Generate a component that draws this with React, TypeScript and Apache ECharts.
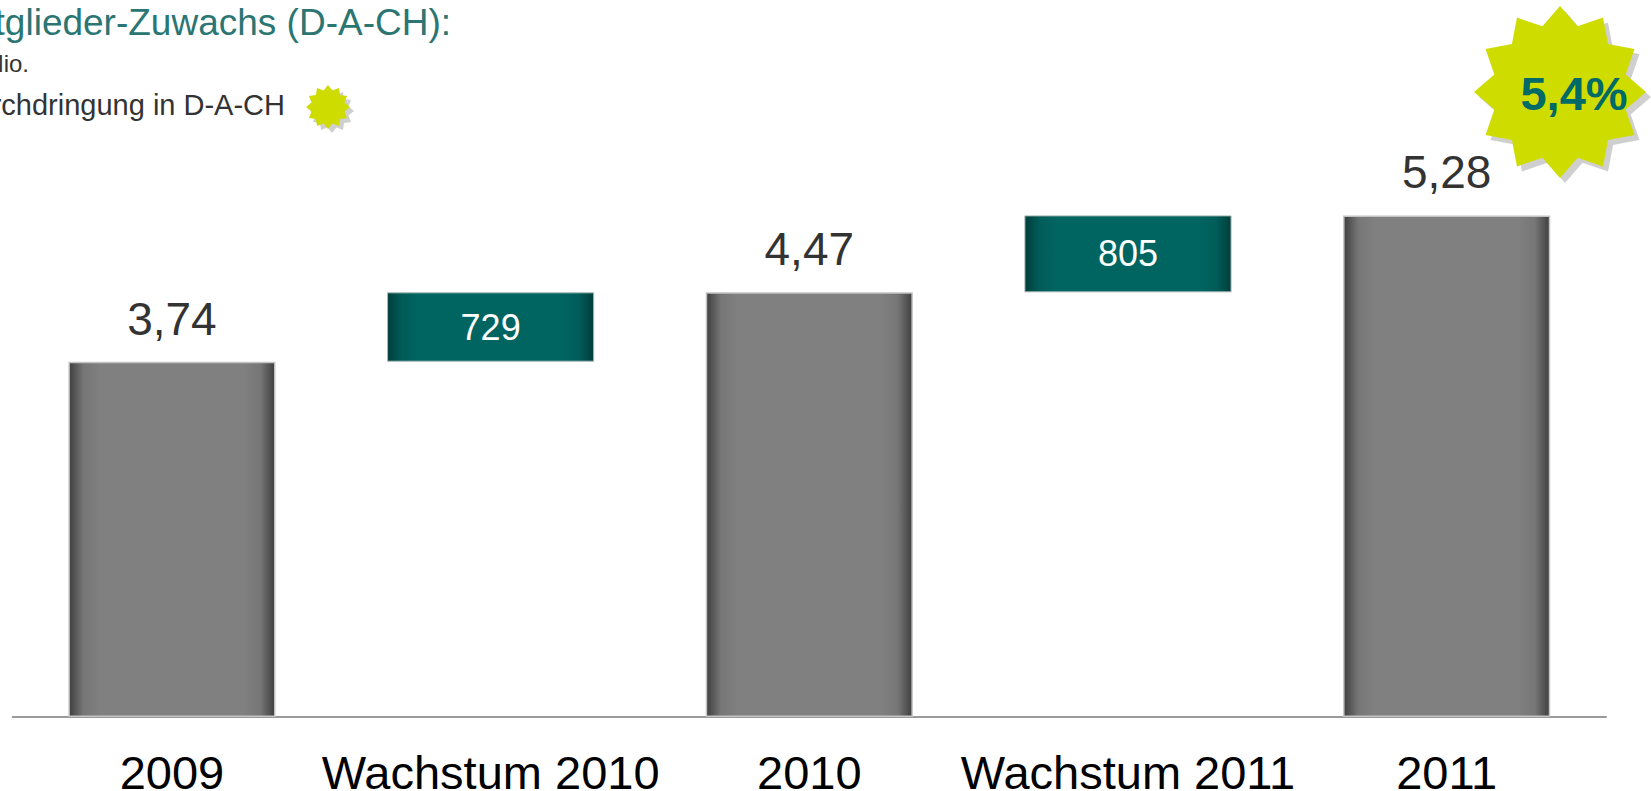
import React, { useEffect, useRef } from "react";
import * as echarts from "echarts";

const categories = ["2009", "Wachstum 2010", "2010", "Wachstum 2011", "2011"];
const totals = [3.74, 4.47, 5.28]; // Mio.
const growth = [729, 805]; // Tsd.
const penetration = "5,4%";

const FONT = "'Liberation Sans', Arial, sans-serif";

function starPoints(cx: number, cy: number, ro: number, ri: number, n: number) {
  const pts: number[][] = [];
  for (let i = 0; i < n * 2; i++) {
    const r = i % 2 === 0 ? ro : ri;
    const a = -Math.PI / 2 + (i * Math.PI) / n;
    pts.push([cx + r * Math.cos(a), cy + r * Math.sin(a)]);
  }
  return pts;
}

const grayFill = {
  type: "linear", x: 0, y: 0, x2: 1, y2: 0,
  colorStops: [
    { offset: 0, color: "#3f3f3f" },
    { offset: 0.07, color: "#767676" },
    { offset: 0.15, color: "#808080" },
    { offset: 0.85, color: "#808080" },
    { offset: 0.93, color: "#767676" },
    { offset: 1, color: "#3f3f3f" },
  ],
};
const tealFill = {
  type: "linear", x: 0, y: 0, x2: 1, y2: 0,
  colorStops: [
    { offset: 0, color: "#003e3b" },
    { offset: 0.07, color: "#005c58" },
    { offset: 0.15, color: "#006461" },
    { offset: 0.85, color: "#006461" },
    { offset: 0.93, color: "#005c58" },
    { offset: 1, color: "#003e3b" },
  ],
};

const fmt = (v: number) => v.toFixed(2).replace(".", ",");

export default function App() {
  const ref = useRef<HTMLDivElement>(null);
  useEffect(() => {
    if (!ref.current) return;
    const chart = echarts.init(ref.current, null, { renderer: "svg" });

    const baseData: number[] = [];
    const valueData: any[] = [];
    categories.forEach((_, i) => {
      if (i % 2 === 0) {
        const t = totals[i / 2];
        baseData.push(0);
        valueData.push({
          value: t,
          itemStyle: { color: grayFill, borderColor: "#c4c4c4", borderWidth: 1.5 },
          label: {
            show: true, position: "top", distance: 20,
            formatter: fmt(t), fontSize: 46, color: "#333333", fontFamily: FONT,
          },
        });
      } else {
        const k = (i - 1) / 2;
        const start = totals[k];
        const end = totals[k + 1];
        baseData.push(start);
        valueData.push({
          value: +(end - start).toFixed(4),
          itemStyle: { color: tealFill, borderColor: "#a9b9b8", borderWidth: 1 },
          label: {
            show: true, position: "inside",
            formatter: String(growth[k]), fontSize: 36, color: "#ffffff", fontFamily: FONT,
          },
        });
      }
    });

    const big = starPoints(1560, 92, 86, 68, 12);
    const small = starPoints(328, 107, 22, 17, 12);
    const shift = (pts: number[][], d: number) => pts.map(([x, y]) => [x + d, y + d]);

    chart.setOption({
      animation: false,
      backgroundColor: "#ffffff",
      grid: { left: 12.6, right: 45, top: 147, bottom: 74, containLabel: false, outerBoundsMode: "none" },
      xAxis: {
        type: "category",
        data: categories,
        axisTick: { show: false },
        axisLine: { lineStyle: { color: "#9a9a9a", width: 2 } },
        axisLabel: { fontSize: 47, color: "#000000", margin: 32, fontFamily: FONT, interval: 0 },
      },
      yAxis: { type: "value", min: 0, max: 6, show: false, splitLine: { show: false } },
      series: [
        {
          type: "bar", stack: "w", data: baseData, barWidth: "65%",
          itemStyle: { color: "transparent" }, silent: true,
        },
        { type: "bar", stack: "w", data: valueData, barWidth: "65%" },
      ],
      graphic: [
        {
          type: "text", x: 451, y: 41,
          style: {
            text: "Mitglieder-Zuwachs (D-A-CH):", fill: "#2b7573", fontSize: 37,
            fontFamily: FONT, align: "right", verticalAlign: "bottom",
          },
        },
        {
          type: "text", x: 29, y: 75,
          style: {
            text: "in Mio.", fill: "#333333", fontSize: 24,
            fontFamily: FONT, align: "right", verticalAlign: "bottom",
          },
        },
        {
          type: "text", x: 285, y: 119,
          style: {
            text: "Marktdurchdringung in D-A-CH", fill: "#333333", fontSize: 29,
            fontFamily: FONT, align: "right", verticalAlign: "bottom",
          },
        },
        { type: "polygon", shape: { points: shift(small, 4) }, style: { fill: "#cfcfcf" } },
        { type: "polygon", shape: { points: small }, style: { fill: "#cedc00" } },
        { type: "polygon", shape: { points: shift(big, 5) }, style: { fill: "#cfcfcf" } },
        { type: "polygon", shape: { points: big }, style: { fill: "#cedc00" } },
        {
          type: "text", x: 1574, y: 93,
          style: {
            text: penetration, fill: "#006a66", fontSize: 47, fontWeight: "bold",
            fontFamily: FONT, align: "center", verticalAlign: "middle",
          },
        },
      ],
    });
    return () => chart.dispose();
  }, []);
  return (
    <div
      ref={ref}
      style={{ position: "fixed", left: 0, top: 0, width: 1651, height: 791 }}
    />
  );
}
